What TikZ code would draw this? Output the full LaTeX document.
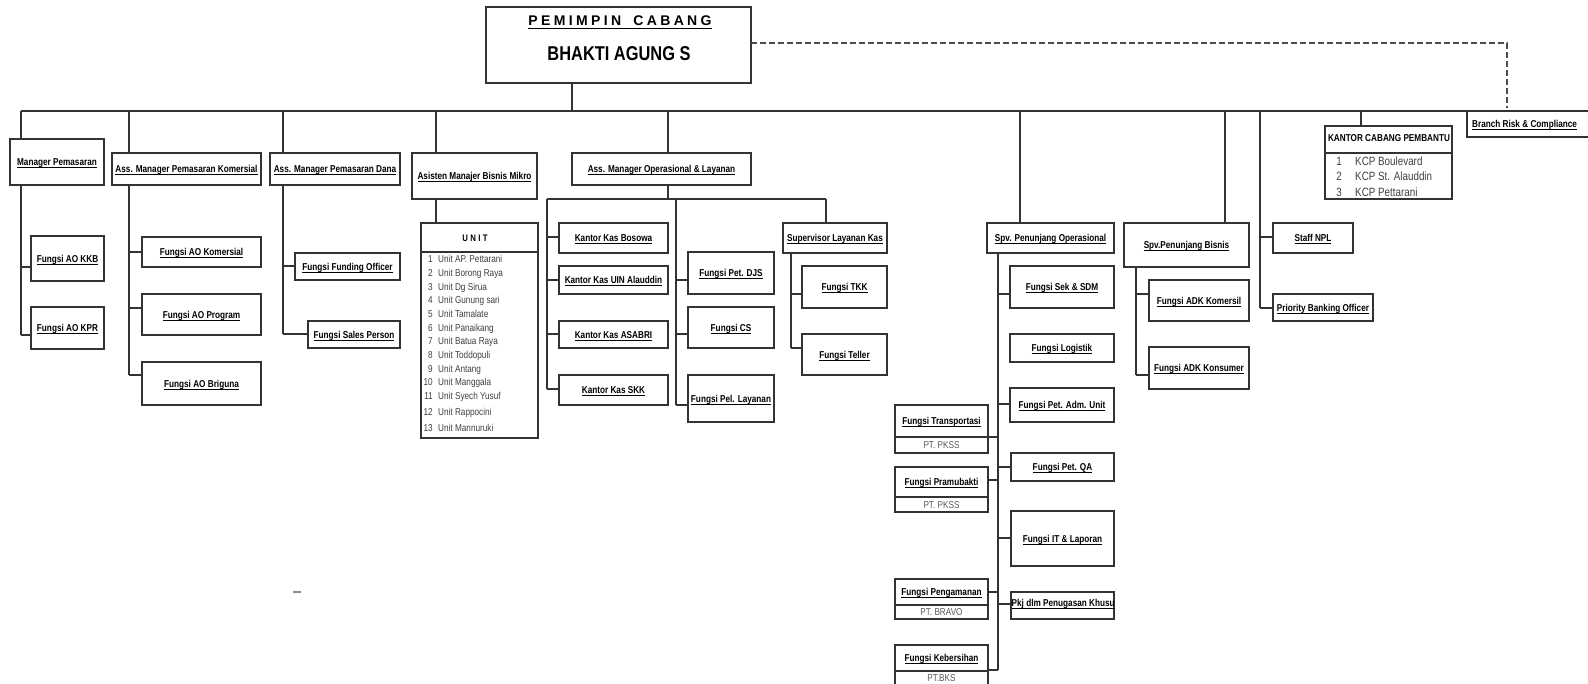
\documentclass[tikz,border=0pt]{standalone}
\usepackage{fontspec}
\setmainfont{Liberation Sans}[FakeStretch=0.82]
\newfontfamily\spacedwide{Liberation Sans}[LetterSpace=24]
\newfontfamily\spacednarrow{Liberation Sans}[FakeStretch=0.82,LetterSpace=25]
\newcommand\ul[1]{\setbox0=\hbox{#1}\rlap{\rule[-2.4pt]{\wd0}{0.9pt}}\box0}
\newcommand\ulbig[1]{\setbox0=\hbox{#1}\rlap{\rule[-3.8pt]{\wd0}{1.3pt}}\box0}
% box by corners: name, x1, y1, x2, y2, text
\newcommand\bx[6]{\node[box, anchor=north west, minimum width={#4-#2}, minimum height={#5-#3}] (#1) at (#2,#3) {#6};}
\tikzset{
  box/.style={draw=black!80, line width=1.5pt, inner sep=0pt, outer sep=0pt, text height=8pt, text depth=0.8pt, font=\bfseries\fontsize{10}{12}\selectfont},
  sepline/.style={draw=black!80, line width=1.3pt},
  ln/.style={draw=black!80, line width=1.3pt},
  txt/.style={inner sep=0pt, text height=8pt, text depth=0.8pt, font=\bfseries\fontsize{10}{12}\selectfont},
  lst/.style={inner sep=0pt, font=\fontsize{10}{12}\selectfont, text=black!75},
  kcpl/.style={inner sep=0pt, font=\fontsize{12}{14}\selectfont, text=black!75},
  sub/.style={inner sep=0pt, text height=8pt, text depth=0.8pt, font=\fontsize{10}{12}\selectfont, text=black!65},
}
\begin{document}
\begin{tikzpicture}[x=1pt,y=-1pt]
\useasboundingbox (0,0) rectangle (1588,683);
\fill[white] (0,0) rectangle (1588,683);

% ---------- top box ----------
\bx{top}{486}{7}{751}{83}{}
\node[inner sep=0pt, anchor=base, font=\spacedwide\bfseries\fontsize{14}{16}\selectfont] (topT) at (620,25) {\ulbig{PEMIMPIN\hspace{5pt} CABANG}};
\node[inner sep=0pt, anchor=base, font=\bfseries\fontsize{20}{22}\selectfont] (topN) at (619,60) {BHAKTI AGUNG S};

% dashed line to Branch Risk
\coordinate (dr) at (1507,43);
\coordinate (dd) at (1507,108);
\draw[ln, draw=black!70, dash pattern=on 6pt off 3pt] (top.east |- dr) -- (dr) -- (dd);

% ---------- level 1 ----------
\bx{mp}{10}{139}{104}{185}{\ul{Manager Pemasaran}}
\bx{amk}{112}{153}{261}{185}{\ul{Ass. Manager Pemasaran Komersial}}
\bx{amd}{270}{153}{400}{185}{\ul{Ass. Manager Pemasaran Dana}}
\bx{ambm}{412}{153}{537}{199}{\ul{Asisten Manajer Bisnis Mikro}}
\bx{amo}{572}{153}{751}{185}{\ul{Ass. Manager Operasional \& Layanan}}

\bx{kcp}{1325}{126}{1452}{199}{}
\draw[sepline] (1325,153) -- (1452,153);
\node[txt, anchor=base] (kcpT) at (1389,141.5) {KANTOR CABANG PEMBANTU};
\node[kcpl, anchor=base] (kn1) at (1339,165) {1};
\node[kcpl, anchor=base west] (kt1) at (1355,165) {KCP Boulevard};
\node[kcpl, anchor=base] (kn2) at (1339,180.5) {2};
\node[kcpl, anchor=base west] (kt2) at (1355,180.5) {KCP St. Alauddin};
\node[kcpl, anchor=base] (kn3) at (1339,196) {3};
\node[kcpl, anchor=base west] (kt3) at (1355,196) {KCP Pettarani};

\bx{brc}{1467}{111}{1596}{137}{}
\node[txt, anchor=base west] (brcT) at (1472,127.5) {\ul{Branch Risk \& Compliance}};

% ---------- bus ----------
\coordinate (d0) at (572,111);
\coordinate (d1) at (21,111);
\coordinate (d2) at (129,111);
\coordinate (d3) at (283,111);
\coordinate (d4) at (436,111);
\coordinate (d5) at (668,111);
\coordinate (d6) at (1020,111);
\coordinate (d7) at (1225,111);
\coordinate (d8) at (1260,111);
\coordinate (d9) at (1361,111);
\draw[ln] (d1) -- (brc.north west);
\draw[ln] (top.south -| d0) -- (d0);
\draw[ln] (d1) -- (d1 |- mp.north);
\draw[ln] (d2) -- (d2 |- amk.north);
\draw[ln] (d3) -- (d3 |- amd.north);
\draw[ln] (d4) -- (d4 |- ambm.north);
\draw[ln] (d5) -- (d5 |- amo.north);
\draw[ln] (d9) -- (d9 |- kcp.north);

% ---------- Manager Pemasaran ----------
\bx{kkb}{31}{236}{104}{281}{\ul{Fungsi AO KKB}}
\bx{kpr}{31}{307}{104}{349}{\ul{Fungsi AO KPR}}
\coordinate (jkkb) at (21,267);
\coordinate (jkpr) at (21,335);
\draw[ln] (jkkb |- mp.south) -- (jkpr);
\draw[ln] (jkkb) -- (jkkb -| kkb.west);
\draw[ln] (jkpr) -- (jkpr -| kpr.west);

% ---------- Ass. Manager Pemasaran Komersial ----------
\bx{aok}{142}{237}{261}{267}{\ul{Fungsi AO Komersial}}
\bx{aop}{142}{294}{261}{335}{\ul{Fungsi AO Program}}
\bx{aob}{142}{362}{261}{405}{\ul{Fungsi AO Briguna}}
\coordinate (jaok) at (129,252);
\coordinate (jaop) at (129,308);
\coordinate (jaob) at (129,375);
\draw[ln] (jaok |- amk.south) -- (jaob);
\draw[ln] (jaok) -- (jaok -| aok.west);
\draw[ln] (jaop) -- (jaop -| aop.west);
\draw[ln] (jaob) -- (jaob -| aob.west);

% ---------- Ass. Manager Pemasaran Dana ----------
\bx{ffo}{295}{253}{400}{280}{\ul{Fungsi Funding Officer}}
\bx{fsp}{308}{321}{400}{348}{\ul{Fungsi Sales Person}}
\coordinate (jffo) at (283,266);
\coordinate (jfsp) at (283,334);
\draw[ln] (jffo |- amd.south) -- (jfsp);
\draw[ln] (jffo) -- (jffo -| ffo.west);
\draw[ln] (jfsp) -- (jfsp -| fsp.west);

% ---------- UNIT ----------
\bx{unit}{421}{223}{538}{438}{}
\draw[sepline] (421,252) -- (538,252);
\node[inner sep=0pt, text height=7pt, text depth=0pt, font=\spacednarrow\bfseries\fontsize{9.5}{11}\selectfont] (unitT) at (475,238) {UNIT};
\coordinate (ju) at (436,199);
\draw[ln] (ju) -- (ju |- unit.north);
\foreach \n/\t/\y in {1/Unit AP. Pettarani/259, 2/Unit Borong Raya/273, 3/Unit Dg Sirua/287,
  4/Unit Gunung sari/300, 5/Unit Tamalate/314, 6/Unit Panaikang/328, 7/Unit Batua Raya/341,
  8/Unit Toddopuli/355, 9/Unit Antang/369, 10/Unit Manggala/382, 11/Unit Syech Yusuf/396,
  12/Unit Rappocini/412, 13/Unit Mannuruki/428}{
  \node[lst, anchor=base east] (un\n) at (433,\y+3.6) {\n};
  \node[lst, anchor=base west] (ut\n) at (438,\y+3.6) {\t};
}

% ---------- Ass. Manager Operasional ----------
\coordinate (oc) at (668,199);
\coordinate (oh1) at (547,199);
\coordinate (oh2) at (676,199);
\coordinate (oh3) at (826,199);
\draw[ln] (oc |- amo.south) -- (oc);
\draw[ln] (oh1) -- (oh3);

\bx{kkbos}{559}{223}{668}{253}{\ul{Kantor Kas Bosowa}}
\bx{kkuin}{559}{266}{668}{294}{\ul{Kantor Kas UIN Alauddin}}
\bx{kkasa}{559}{321}{668}{348}{\ul{Kantor Kas ASABRI}}
\bx{kkskk}{559}{375}{668}{405}{\ul{Kantor Kas SKK}}
\coordinate (jk1) at (547,237);
\coordinate (jk2) at (547,280);
\coordinate (jk3) at (547,334);
\coordinate (jk4) at (547,389);
\draw[ln] (oh1) -- (jk4);
\draw[ln] (jk1) -- (jk1 -| kkbos.west);
\draw[ln] (jk2) -- (jk2 -| kkuin.west);
\draw[ln] (jk3) -- (jk3 -| kkasa.west);
\draw[ln] (jk4) -- (jk4 -| kkskk.west);

\bx{djs}{688}{252}{774}{294}{\ul{Fungsi Pet. DJS}}
\bx{fcs}{688}{307}{774}{348}{\ul{Fungsi CS}}
\bx{fpl}{688}{375}{774}{422}{\ul{Fungsi Pel. Layanan}}
\coordinate (jf1) at (676,280);
\coordinate (jf2) at (676,334);
\coordinate (jf3) at (676,405);
\draw[ln] (oh2) -- (jf3);
\draw[ln] (jf1) -- (jf1 -| djs.west);
\draw[ln] (jf2) -- (jf2 -| fcs.west);
\draw[ln] (jf3) -- (jf3 -| fpl.west);

\bx{slk}{783}{223}{887}{253}{\ul{Supervisor Layanan Kas}}
\draw[ln] (oh3) -- (oh3 |- slk.north);
\bx{tkk}{802}{266}{887}{308}{\ul{Fungsi TKK}}
\bx{tel}{802}{334}{887}{375}{\ul{Fungsi Teller}}
\coordinate (js1) at (791,294);
\coordinate (js2) at (791,348);
\draw[ln] (js1 |- slk.south) -- (js2);
\draw[ln] (js1) -- (js1 -| tkk.west);
\draw[ln] (js2) -- (js2 -| tel.west);

% ---------- Spv. Penunjang Operasional ----------
\bx{spo}{987}{223}{1114}{253}{\ul{Spv. Penunjang Operasional}}
\draw[ln] (d6) -- (d6 |- spo.north);
\coordinate (jpend) at (998,670);
\draw[ln] (jpend |- spo.south) -- (jpend);

\bx{sek}{1010}{266}{1114}{308}{\ul{Fungsi Sek \& SDM}}
\bx{logi}{1010}{334}{1114}{362}{\ul{Fungsi Logistik}}
\bx{adm}{1010}{388}{1114}{422}{\ul{Fungsi Pet. Adm. Unit}}
\bx{pqa}{1011}{453}{1114}{481}{\ul{Fungsi Pet. QA}}
\bx{itl}{1011}{511}{1114}{566}{\ul{Fungsi IT \& Laporan}}
\bx{pkj}{1011}{592}{1114}{619}{}
\node[txt, anchor=west] (pkjT) at (1011.5,603) {\ul{Pkj dlm Penugasan Khusu}};
\coordinate (jr1) at (998,294);
\coordinate (jr2) at (998,404);
\coordinate (jr3) at (998,467);
\coordinate (jr4) at (998,538);
\coordinate (jr5) at (998,604);
\draw[ln] (jr1) -- (jr1 -| sek.west);
\draw[ln] (jr2) -- (jr2 -| adm.west);
\draw[ln] (jr3) -- (jr3 -| pqa.west);
\draw[ln] (jr4) -- (jr4 -| itl.west);
\draw[ln] (jr5) -- (jr5 -| pkj.west);

\bx{tra}{895}{405}{988}{453}{}
\draw[sepline] (895,437) -- (988,437);
\node[txt] (traT) at (941.5,421) {\ul{Fungsi Transportasi}};
\node[sub] (traS) at (941.5,445) {PT. PKSS};
\bx{pra}{895}{467}{988}{512}{}
\draw[sepline] (895,497) -- (988,497);
\node[txt] (praT) at (941.5,482) {\ul{Fungsi Pramubakti}};
\node[sub] (praS) at (941.5,504.5) {PT. PKSS};
\bx{pen}{895}{579}{988}{619}{}
\draw[sepline] (895,605) -- (988,605);
\node[txt] (penT) at (941.5,592) {\ul{Fungsi Pengamanan}};
\node[sub] (penS) at (941.5,612) {PT. BRAVO};
\bx{keb}{895}{645}{988}{690}{}
\draw[sepline] (895,671) -- (988,671);
\node[txt] (kebT) at (941.5,658) {\ul{Fungsi Kebersihan}};
\node[sub] (kebS) at (941.5,678) {PT.BKS};
\coordinate (jl1) at (998,437);
\coordinate (jl2) at (998,480);
\coordinate (jl3) at (998,592);
\draw[ln] (jl1) -- (jl1 -| tra.east);
\draw[ln] (jl2) -- (jl2 -| pra.east);
\draw[ln] (jl3) -- (jl3 -| pen.east);
\draw[ln] (jpend) -- (jpend -| keb.east);

% ---------- Spv. Penunjang Bisnis ----------
\bx{spb}{1124}{223}{1249}{267}{\ul{Spv.Penunjang Bisnis}}
\draw[ln] (d7) -- (d7 |- spb.north);
\bx{adk1}{1149}{280}{1249}{321}{\ul{Fungsi ADK Komersil}}
\bx{adk2}{1149}{347}{1249}{389}{\ul{Fungsi ADK Konsumer}}
\coordinate (jb1) at (1136,294);
\coordinate (jb2) at (1136,375);
\draw[ln] (jb1 |- spb.south) -- (jb2);
\draw[ln] (jb1) -- (jb1 -| adk1.west);
\draw[ln] (jb2) -- (jb2 -| adk2.west);

% ---------- Staff NPL / Priority ----------
\bx{npl}{1273}{223}{1353}{253}{\ul{Staff NPL}}
\bx{pbo}{1273}{294}{1373}{321}{\ul{Priority Banking Officer}}
\coordinate (jn1) at (1260,237);
\coordinate (jn2) at (1260,308);
\draw[ln] (d8) -- (jn2);
\draw[ln] (jn1) -- (jn1 -| npl.west);
\draw[ln] (jn2) -- (jn2 -| pbo.west);

% stray mark
\draw[black!45, line width=1.2pt] (293,592) -- (301,592);
\end{tikzpicture}
\end{document}
